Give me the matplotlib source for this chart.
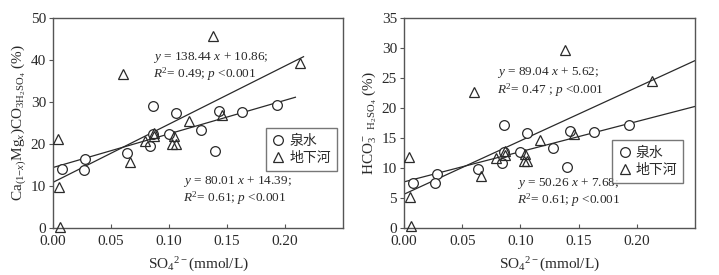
import numpy as np
import matplotlib.pyplot as plt

plt.rcParams["font.family"] = ["Liberation Serif", "Noto Sans CJK SC"]
plt.rcParams["mathtext.fontset"] = "custom"
plt.rcParams["mathtext.rm"] = "Liberation Serif"
plt.rcParams["mathtext.it"] = "Liberation Serif:italic"

# Shared SO4 concentrations (mmol/L)
spring_x = [0.008, 0.028, 0.027, 0.064, 0.084, 0.086, 0.086, 0.100, 0.106,
            0.128, 0.140, 0.143, 0.163, 0.193]
river_x = [0.004, 0.005, 0.006, 0.060, 0.066, 0.079, 0.087, 0.087, 0.104,
           0.103, 0.106, 0.117, 0.138, 0.146, 0.213]

# Left panel: Ca(1-x)Mgx)CO3 H2SO4 (%)
spring_ca = [14.0, 16.5, 13.9, 17.9, 19.5, 29.1, 22.3, 22.4, 27.3,
             23.4, 18.2, 27.8, 27.5, 29.3]
river_ca = [21.2, 9.8, 0.3, 36.7, 15.6, 20.6, 22.6, 21.8, 21.9,
            19.9, 20.1, 25.5, 45.8, 26.9, 39.2]

# Right panel: HCO3- H2SO4 (%)
spring_hco3 = [7.5, 9.0, 7.5, 9.9, 10.8, 17.1, 12.7, 12.6, 15.8,
               13.3, 10.1, 16.2, 16.0, 17.2]
river_hco3 = [11.9, 5.1, 0.3, 22.6, 8.6, 11.6, 12.8, 12.2, 12.3,
              11.2, 11.2, 14.7, 29.7, 15.7, 24.5]

# Fits: (slope, intercept, x end)
ca_fit_spring = (80.01, 14.39, 0.209)
ca_fit_river = (138.44, 10.86, 0.216)
hco3_fit_spring = (50.26, 7.68, 0.25)
hco3_fit_river = (89.04, 5.62, 0.25)

ink = "#2a2a2a"
spine_c = "#555555"

fig = plt.figure(figsize=(7.19, 2.75), dpi=100)
ax1 = fig.add_axes([0.0737, 0.171, 0.4033, 0.764])
ax2 = fig.add_axes([0.5619, 0.171, 0.4047, 0.764])


def draw_panel(ax, sx, sy, rx, ry, fits, ylim, yticks, ylabel, texts, leg_anchor):
    for slope, icpt, xend in fits:
        xs = np.array([0.0, xend])
        ax.plot(xs, slope * xs + icpt, color=ink, lw=0.9, zorder=2)
    ax.plot(sx, sy, "o", ms=7, mfc="white", mec=ink, mew=0.9, ls="none",
            label="泉水", zorder=3, clip_on=False)
    ax.plot(rx, ry, "^", ms=6.5, mfc="none", mec=ink, mew=0.9, ls="none",
            label="地下河", zorder=4, clip_on=False)
    ax.set_xlim(0, 0.25)
    ax.set_ylim(*ylim)
    ax.set_xticks([0.00, 0.05, 0.10, 0.15, 0.20])
    ax.set_xticklabels(["0.00", "0.05", "0.10", "0.15", "0.20"])
    ax.set_yticks(yticks)
    ax.tick_params(axis="x", direction="in", length=3, colors=spine_c,
                   labelcolor=ink, labelsize=11, pad=5)
    ax.tick_params(axis="y", direction="out", length=3, colors=spine_c,
                   labelcolor=ink, labelsize=11, pad=2)
    for s in ax.spines.values():
        s.set_color(spine_c)
        s.set_linewidth(1.0)
    ax.set_xlabel(r"SO$_4$$^{2-}$(mmol/L)", fontsize=11, color=ink, labelpad=6)
    ax.set_ylabel(ylabel, fontsize=11, color=ink, labelpad=2)
    for (x, y, s) in texts:
        ax.text(x, y, s, transform=ax.transAxes, fontsize=9.5, color=ink,
                ha="left", va="center", linespacing=1.05)
    leg = ax.legend(loc="upper left", bbox_to_anchor=leg_anchor, frameon=True,
                    fancybox=False, edgecolor=spine_c,
                    handletextpad=0.3, handlelength=1.0, borderpad=0.4,
                    borderaxespad=0.0, labelspacing=0.25,
                    prop={"family": ["Noto Sans CJK SC"], "size": 10})
    leg.get_frame().set_linewidth(1.0)
    for t in leg.get_texts():
        t.set_color(ink)


draw_panel(
    ax1, spring_x, spring_ca, river_x, river_ca,
    [ca_fit_spring, ca_fit_river], (0, 50), [0, 10, 20, 30, 40, 50],
    r"Ca$_{(1\mathrm{-}x)}$Mg$_x$)CO$_{3\mathrm{H_2SO_4}}$ (%)",
    [(0.345, 0.77, r"$y$ = 138.44 $x$ + 10.86;" + "\n" + r"$R^2$= 0.49; $p$ <0.001"),
     (0.448, 0.18, r"$y$ = 80.01 $x$ + 14.39;" + "\n" + r"$R^2$= 0.61; $p$ <0.001")],
    (0.734, 0.476),
)

draw_panel(
    ax2, spring_x, spring_hco3, river_x, river_hco3,
    [hco3_fit_spring, hco3_fit_river], (0, 35), [0, 5, 10, 15, 20, 25, 30, 35],
    r"HCO$_3^-$ $_{\mathrm{H_2SO_4}}$ (%)",
    [(0.32, 0.695, r"$y$ = 89.04 $x$ + 5.62;" + "\n" + r"$R^2$= 0.47 ; $p$ <0.001"),
     (0.388, 0.17, r"$y$ = 50.26 $x$ + 7.68;" + "\n" + r"$R^2$= 0.61; $p$ <0.001")],
    (0.715, 0.419),
)

fig.savefig("out.png", dpi=100)
